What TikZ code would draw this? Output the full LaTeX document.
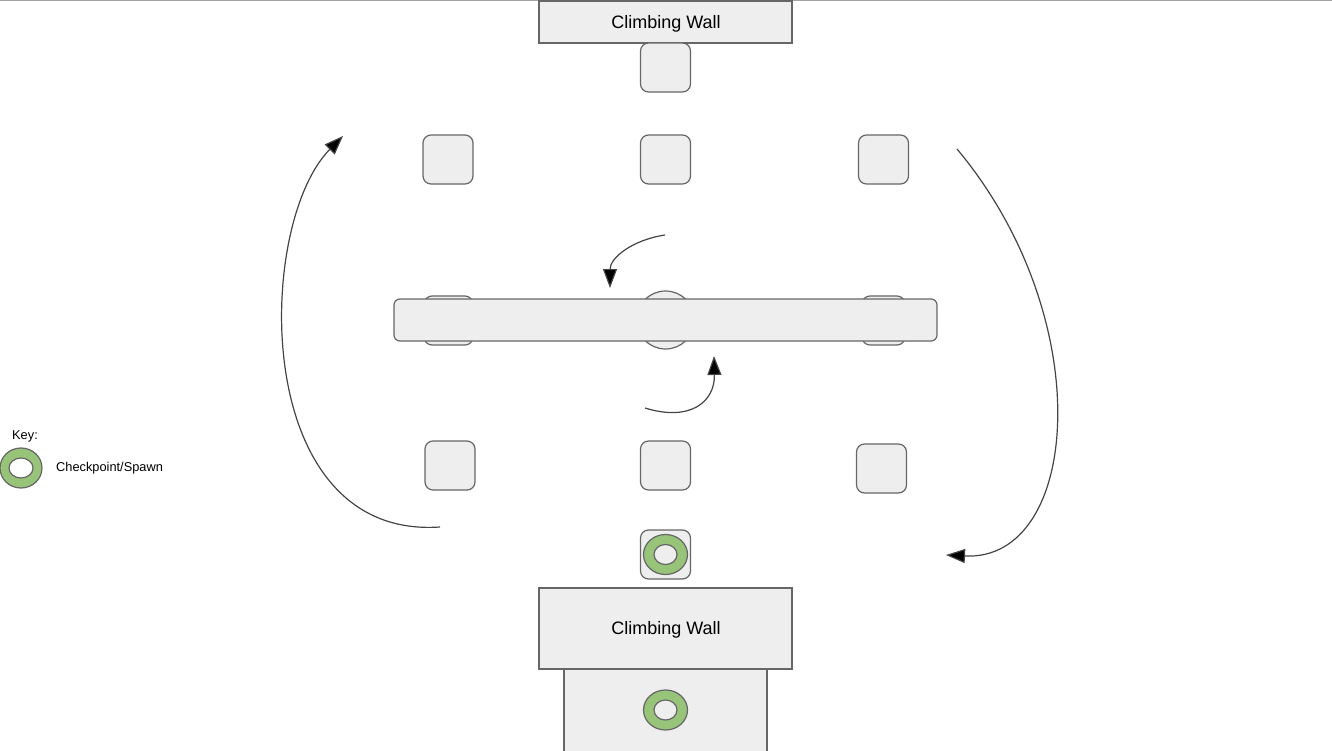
\documentclass[tikz,border=0pt]{standalone}
\usepackage{fontspec}
\setmainfont{Liberation Sans}
\usetikzlibrary{arrows.meta}
\definecolor{boxfill}{HTML}{EEEEEE}
\definecolor{boxline}{HTML}{666666}
\definecolor{ringfill}{HTML}{97C479}
\definecolor{arrline}{HTML}{444444}
\tikzset{
  wall/.style={draw=boxline, fill=boxfill, line width=1.2pt, inner sep=0pt, font=\fontsize{18}{20}\selectfont},
  walltext/.style={inner sep=0pt, font=\fontsize{18}{20}\selectfont},
  sq/.style={draw=boxline, fill=boxfill, line width=1.2pt, rounded corners=8pt, minimum width=50pt, minimum height=49pt, inner sep=0pt},
  bar/.style={draw=boxline, fill=boxfill, line width=1.2pt, rounded corners=6pt, minimum width=543pt, minimum height=42pt, inner sep=0pt},
  ring/.style={draw=boxline, fill=ringfill, line width=1.2pt, even odd rule},
  flow/.style={draw=arrline, line width=1.2pt, -{Triangle[length=19pt,width=14pt,fill=black]}},
  keytext/.style={font=\fontsize{12.8}{15}\selectfont, inner sep=0pt, anchor=west},
}
\begin{document}
\begin{tikzpicture}[x=1pt,y=-1pt]
\useasboundingbox (0,0) rectangle (1332,751);
\draw[color=boxline!60, line width=1pt] (0,0.5) -- (1332,0.5);

% top wall
\node[wall, minimum width=253pt, minimum height=42pt] (topwall) at (665.5,22) {};
\node[walltext] (toplbl) at (666,23.5) {Climbing Wall};
\node[sq] (topsq) at (665.5,67.5) {};

% row 1
\node[sq] (r1l) at (448,159.5) {};
\node[sq] (r1c) at (665.5,159.5) {};
\node[sq] (r1r) at (883.5,159.5) {};

% objects behind the bar
\node[sq, minimum width=49pt] (midl) at (448.5,320.5) {};
\node[draw=boxline, fill=boxfill, line width=1.2pt, circle, minimum size=58pt, inner sep=0pt] (midc) at (665.5,320) {};
\node[sq, minimum width=43pt] (midr) at (883.5,320.5) {};
\node[bar] (bar) at (665.5,320) {};

% row 3
\node[sq] (r3l) at (450,465.5) {};
\node[sq] (r3c) at (665.5,465.5) {};
\node[sq] (r3r) at (881.5,468.5) {};

% checkpoint square
\node[sq] (cpsq) at (665.5,554.5) {};
\path[ring] (cpsq.center) ellipse [x radius=22pt, y radius=20pt] (cpsq.center) ellipse [x radius=11.5pt, y radius=10pt];

% bottom wall
\node[draw=boxline, fill=boxfill, line width=1.2pt, minimum width=203pt, minimum height=84pt, inner sep=0pt] (spawnbox) at (665.5,710) {};
\path[ring] (spawnbox.center) ellipse [x radius=22pt, y radius=20pt] (spawnbox.center) ellipse [x radius=11.5pt, y radius=10pt];
\node[wall, minimum width=253pt, minimum height=81pt] (botwall) at (665.5,628.5) {};
\node[walltext] (botlbl) at (666,630) {Climbing Wall};

% arrows
\coordinate (la) at (440,527);
\coordinate (lb) at (343,136);
\draw[flow] (la) .. controls (250,540) and (255,225) .. (lb);
\coordinate (ra) at (957,149);
\coordinate (rb) at (946,555);
\draw[flow] (ra) .. controls (1100,320) and (1080,562) .. (rb);
\coordinate (ua) at (665,235);
\coordinate (ub) at (610,288);
\draw[flow] (ua) .. controls (632,240) and (610,258) .. (ub);
\coordinate (da) at (645,408);
\coordinate (db) at (714,356);
\draw[flow] (da) .. controls (690,422) and (715,402) .. (db);

% key
\node[keytext] (keylbl) at (12,436) {Key:};
\coordinate (keyring) at (21,468);
\path[ring] (keyring) ellipse [x radius=21pt, y radius=20pt] (keyring) ellipse [x radius=12pt, y radius=10pt];
\node[keytext] (keytxt) at (56,468.5) {Checkpoint/Spawn};
\end{tikzpicture}
\end{document}
